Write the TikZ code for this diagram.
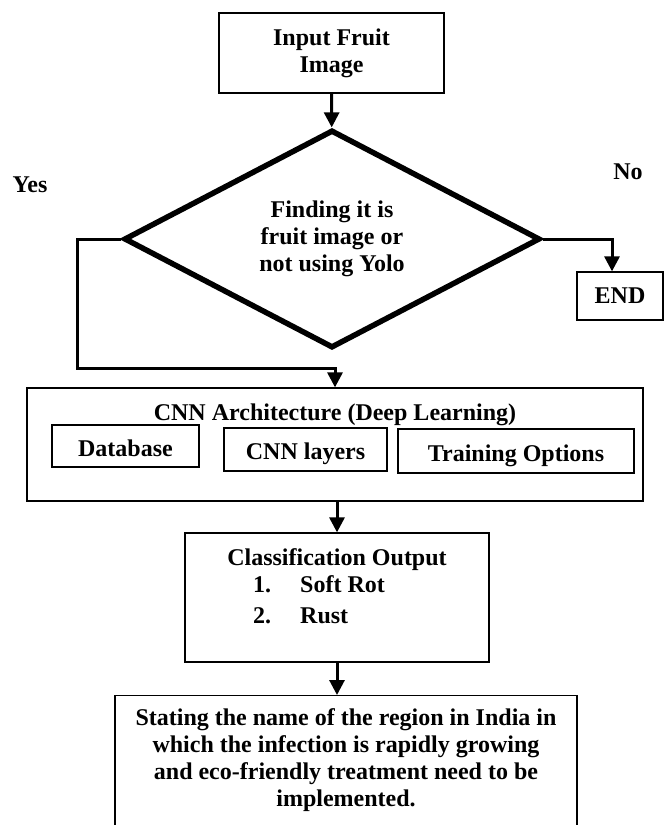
\documentclass[tikz,border=0pt]{standalone}
\usepackage{fontspec}
\setmainfont{Liberation Serif}
\usetikzlibrary{arrows.meta, positioning, shapes.geometric}

\begin{document}
\begin{tikzpicture}[x=1pt, y=-1pt, font=\fontsize{24}{27}\selectfont\bfseries,
    box/.style={draw, line width=1.3pt, inner sep=0pt},
    inbox/.style={box, text height=20pt, text depth=0pt},
    label/.style={inner sep=0pt},
    flow/.style={line width=3pt, -{Triangle[length=15pt, width=15pt]}},
    ]
    \useasboundingbox (0,0) rectangle (665,825);
    \clip (0,0) rectangle (665,825);

    % Input
    \node[box, minimum width=225pt, minimum height=80pt, align=center] (input) at (331.5,53) {Input Fruit\\Image};

    % Decision
    \node[diamond, draw, line width=5.5pt, minimum width=416pt, minimum height=218pt, shape aspect=1.9, inner sep=0pt, align=center] (yolo) at (332,239) {Finding it is\\fruit image or\\not using Yolo};
    \node[label] (yes) at (30,185) {Yes};
    \node[label] (no) at (628,172) {No};

    % End
    \node[box, minimum width=86pt, minimum height=48pt] (end) at (620,296) {END};

    % CNN block
    \node[box, minimum width=616pt, minimum height=113pt] (cnn) at (335,444.5) {};
    \node[label, anchor=base] (cnntitle) at (335,420) {CNN Architecture (Deep Learning)};
    \node[inbox, minimum width=147pt, minimum height=42pt] (db) at (125.5,446) {Database};
    \node[inbox, minimum width=163pt, minimum height=43pt] (layers) at (305.5,449.5) {CNN layers};
    \node[inbox, minimum width=236pt, minimum height=44pt] (train) at (516,451) {Training Options};

    % Classification
    \node[box, minimum width=304pt, minimum height=129pt] (cls) at (337,597.5) {};
    \node[label, anchor=base] (clstitle) at (337,565) {Classification Output};
    \node[label, anchor=base west] (num1) at (253,592) {1.};
    \node[label, anchor=base west] (soft) at (300,592) {Soft Rot};
    \node[label, anchor=base west] (num2) at (253,623) {2.};
    \node[label, anchor=base west] (rust) at (300,623) {Rust};

    % Statement
    \node[box, anchor=north, minimum width=462pt, minimum height=160pt] (state) at (346,695) {};
    \node[label, anchor=north, align=center] (statetext) at (346,708) {Stating the name of the region in India in\\which the infection is rapidly growing\\and eco-friendly treatment need to be\\implemented.};

    % Connectors
    \coordinate (yesbend) at (77,368);
    \draw[flow] (input) -- (yolo);
    \draw[flow] (yolo.west) -| (yesbend) -| (cnn.north);
    \draw[flow] (yolo.east) -| ([xshift=-8pt]end.north);
    \draw[flow] (cnn.south -| cls.north) -- (cls.north);
    \draw[flow] (cls.south) -- (state.north -| cls.south);
\end{tikzpicture}
\end{document}
